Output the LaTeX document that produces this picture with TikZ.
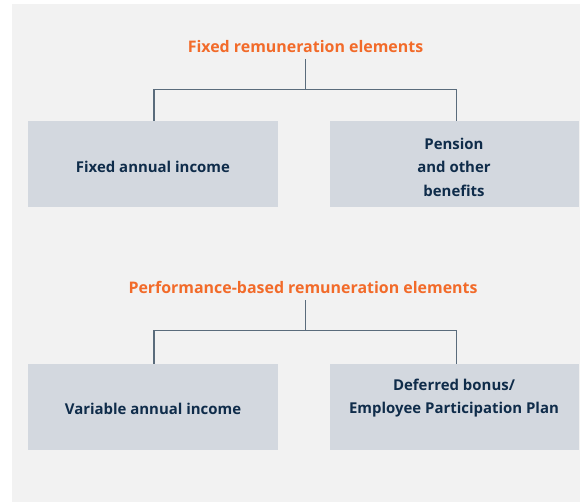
\documentclass[tikz,border=0pt]{standalone}
\usepackage{fontspec}
\setmainfont{Open Sans}
\definecolor{bgc}{HTML}{F2F2F2}
\definecolor{boxc}{HTML}{D3D8DF}
\definecolor{navy}{HTML}{0F2C4A}
\definecolor{orng}{HTML}{F26B2A}
\definecolor{linec}{HTML}{5A6C7C}
\tikzset{
  ttl/.style={font=\fontsize{16}{18}\selectfont\bfseries, text=orng, anchor=base, inner sep=0pt},
  boxn/.style={fill=boxc, minimum width=249bp, minimum height=86bp, inner sep=0pt},
  boxt/.style={inner sep=0pt, align=center, font=\fontsize{15}{23.5}\selectfont\bfseries, text=navy},
  conn/.style={draw=linec, line width=1.2bp}
}
\begin{document}
\begin{tikzpicture}[x=1bp,y=-1bp]
\useasboundingbox (0,0) rectangle (580,502);
\fill[white] (0,0) rectangle (580,502);
\fill[bgc] (12,4) rectangle (580,502);
\node[ttl] (t1) at (305.5,52.5) {Fixed remuneration elements};
\node[ttl] (t2) at (303,293.5) {Performance-based remuneration elements};
\node[boxn] (b1) at (153,164) {};
\node[boxn] (b2) at (454,164) {};
\node[boxn] (b3) at (153,407) {};
\node[boxn] (b4) at (454,407) {};
\node[boxt] (b1t) at ([yshift=-3bp]b1.center) {Fixed annual income};
\node[boxt] (b2t) at ([yshift=-3bp]b2.center) {Pension\\and other\\benefits};
\node[boxt] (b3t) at ([yshift=-2bp]b3.center) {Variable annual income};
\node[boxt] (b4t) at ([yshift=9bp]b4.center) {Deferred bonus/\\Employee Participation Plan};
\coordinate (s1) at (305.5,59);
\coordinate (j1) at (305.5,89.5);
\coordinate (s2) at (305.5,300);
\coordinate (j2) at (305.5,330.5);
\draw[conn] (s1) -- (j1);
\draw[conn] ([xshift=1bp]b1.north) |- (j1) -| ([xshift=2.5bp]b2.north);
\draw[conn] (s2) -- (j2);
\draw[conn] ([xshift=1bp]b3.north) |- (j2) -| ([xshift=2.5bp]b4.north);
\end{tikzpicture}
\end{document}
